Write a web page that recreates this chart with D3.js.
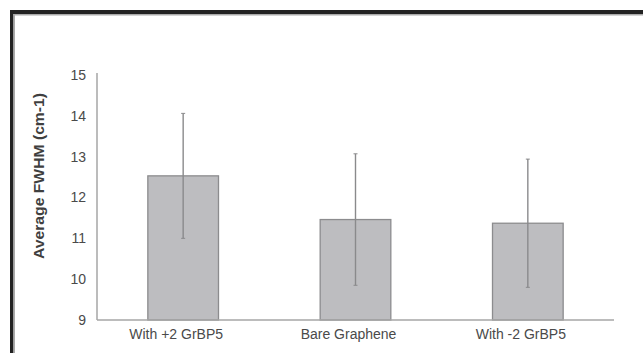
<!DOCTYPE html>
<html lang="en">
<head>
<meta charset="UTF-8">
<title>Average FWHM</title>
<script src="https://cdn.jsdelivr.net/npm/d3@7"></script>
<style>
    body { margin: 0; background: #fff; }
    .axis text { font-family: "Liberation Sans", Arial, sans-serif; font-size: 14px; fill: #4a4a4a; }
    .axis path, .axis line { stroke: #a6a6a6; }
</style>
</head>
<body>
<script>
// data
var categories = ["With +2 GrBP5", "Bare Graphene", "With -2 GrBP5"];
var means = [12.53, 11.46, 11.37];
var errors = [1.53, 1.61, 1.57];
var yTicks = [9, 10, 11, 12, 13, 14, 15];

var width = 643, height = 353;
var margin = {left: 97, right: 29, top: 74, bottom: 33};

var svg = d3.select("body").append("svg")
    .attr("width", width)
    .attr("height", height);

// picture frame (black top + left edge)
svg.append("rect").attr("x", 10).attr("y", 10).attr("width", width - 10).attr("height", 4).attr("fill", "#222");
svg.append("rect").attr("x", 10).attr("y", 10).attr("width", 3.5).attr("height", height - 10).attr("fill", "#222");
svg.append("rect").attr("x", 13.5).attr("y", 14).attr("width", width - 13.5).attr("height", 1.5).attr("fill", "#aaa");
svg.append("rect").attr("x", 13.5).attr("y", 14).attr("width", 1.5).attr("height", height - 14).attr("fill", "#aaa");

var x = d3.scaleBand()
    .domain(categories)
    .range([margin.left, width - margin.right])
    .paddingInner(0.59)
    .paddingOuter(0.295);

var y = d3.scaleLinear()
    .domain([9, 15])
    .range([height - margin.bottom, margin.top + 1]);

// bars
svg.append("g").selectAll("rect")
    .data(categories)
    .enter()
    .append("rect")
    .attr("x", function(d){ return x(d); })
    .attr("y", function(d, i){ return y(means[i]); })
    .attr("width", x.bandwidth())
    .attr("height", function(d, i){ return y(9) - y(means[i]); })
    .style("fill", "#bdbdc0")
    .style("stroke", "#8c8c8e")
    .style("stroke-width", 1.3);

// error bars
var eg = svg.append("g").selectAll("g")
    .data(categories)
    .enter()
    .append("g");
eg.append("line")
    .attr("x1", function(d){ return x(d) + x.bandwidth() / 2; })
    .attr("x2", function(d){ return x(d) + x.bandwidth() / 2; })
    .attr("y1", function(d, i){ return y(means[i] + errors[i]); })
    .attr("y2", function(d, i){ return y(means[i] - errors[i]); })
    .style("stroke", "#8a8a8c")
    .style("stroke-width", 1.4);
eg.append("line")
    .attr("x1", function(d){ return x(d) + x.bandwidth() / 2 - 2; })
    .attr("x2", function(d){ return x(d) + x.bandwidth() / 2 + 2; })
    .attr("y1", function(d, i){ return y(means[i] + errors[i]); })
    .attr("y2", function(d, i){ return y(means[i] + errors[i]); })
    .style("stroke", "#8a8a8c");
eg.append("line")
    .attr("x1", function(d){ return x(d) + x.bandwidth() / 2 - 2; })
    .attr("x2", function(d){ return x(d) + x.bandwidth() / 2 + 2; })
    .attr("y1", function(d, i){ return y(means[i] - errors[i]); })
    .attr("y2", function(d, i){ return y(means[i] - errors[i]); })
    .style("stroke", "#8a8a8c");

// y axis
var yAxis = svg.append("g")
    .attr("class", "axis")
    .attr("transform", "translate(" + margin.left + ",0)")
    .call(d3.axisLeft(y).tickValues(yTicks).tickFormat(d3.format("d")).tickSize(0).tickPadding(11));
yAxis.select(".domain").attr("d", "M0," + (margin.top - 1) + "V" + y(9)).style("stroke-width", 1.5);

// x axis
var xAxis = svg.append("g")
    .attr("class", "axis")
    .attr("transform", "translate(0," + y(9) + ")")
    .call(d3.axisBottom(x).tickSize(0).tickPadding(9));
xAxis.select(".domain").attr("d", "M" + margin.left + ",0H" + (width - margin.right)).style("stroke-width", 1.5);
xAxis.selectAll("text").attr("dx", -7);

// y label
svg.append("text")
    .attr("transform", "translate(44," + 176 + ") rotate(-90)")
    .attr("text-anchor", "middle")
    .attr("textLength", 166)
    .attr("lengthAdjust", "spacingAndGlyphs")
    .style("font-family", "Liberation Sans, Arial, sans-serif")
    .style("font-size", "14px")
    .style("font-weight", "bold")
    .style("fill", "#3f3f3f")
    .text("Average FWHM (cm-1)");
</script>
</body>
</html>
